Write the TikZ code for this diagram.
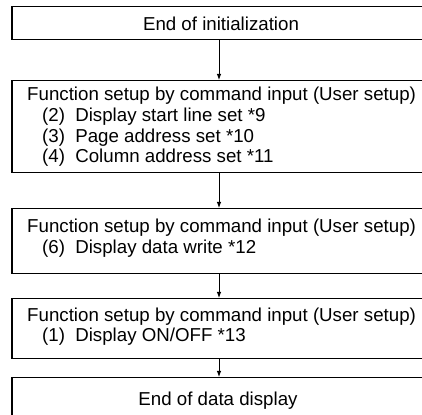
\documentclass[tikz,border=0pt]{standalone}
\usepackage{fontspec}
\setmainfont{Liberation Sans}
\usetikzlibrary{arrows.meta}
\begin{document}
\begin{tikzpicture}[x=1pt,y=1pt,
  box/.style={draw, line width=1.5pt, anchor=north west, minimum width=430pt, inner sep=0pt},
  arr/.style={line width=0.9pt, -{Latex[length=6pt,width=4.5pt]}},
  txt/.style={font=\fontsize{18.7}{20}\selectfont, inner sep=0pt},
  ln/.style={txt, anchor=base west}]
\clip (0,0) rectangle (422,414);
\fill[white] (0,0) rectangle (422,414);
% boxes
\node[box, minimum height=33pt] (b1) at (11,408) {};
\node[box, minimum height=92pt] (b2) at (11,334) {};
\node[box, minimum height=65pt] (b3) at (11,206) {};
\node[box, minimum height=60pt] (b4) at (11,116) {};
\node[box, minimum height=60pt] (b5) at (11,37) {};
% texts
\node[txt, anchor=base] (t1) at (221,383.5) {End of initialization};
\node[ln] (t21) at (27,313) {Function setup by command input (User setup)};
\node[ln] (t22) at (42,292.3) {(2)\hspace{0.55em}Display start line set *9};
\node[ln] (t23) at (42,271.6) {(3)\hspace{0.55em}Page address set *10};
\node[ln] (t24) at (42,251) {(4)\hspace{0.55em}Column address set *11};
\node[ln] (t31) at (27,181) {Function setup by command input (User setup)};
\node[ln] (t32) at (42,160.3) {(6)\hspace{0.55em}Display data write *12};
\node[ln] (t41) at (27,92.3) {Function setup by command input (User setup)};
\node[ln] (t42) at (42,72) {(1)\hspace{0.55em}Display ON/OFF *13};
\node[txt, anchor=base] (t5) at (218,9) {End of data display};
% arrows
\coordinate (ax) at (219,0);
\draw[arr] (b1.south -| ax) -- (b2.north -| ax);
\draw[arr] (b2.south -| ax) -- (b3.north -| ax);
\draw[arr] (b3.south -| ax) -- (b4.north -| ax);
\draw[arr] (b4.south -| ax) -- (b5.north -| ax);
\end{tikzpicture}
\end{document}
